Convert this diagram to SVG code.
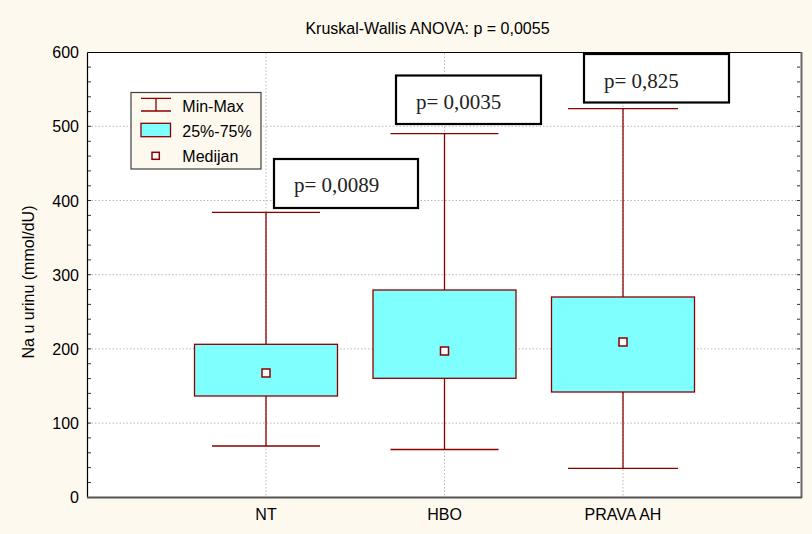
<svg xmlns="http://www.w3.org/2000/svg" width="812" height="534" viewBox="0 0 812 534">
<style>
text{font-family:"Liberation Sans",Arial,sans-serif;fill:#000}
.lbl{font-size:16px}
.tick{font-size:16px;text-anchor:end}
.grid{stroke:#b8b8b8;stroke-width:1;stroke-dasharray:1.5,2;fill:none}
.wh{stroke:#8b0000;stroke-width:1.3;fill:none}
.box{fill:#80ffff;stroke:#8b0000;stroke-width:1.3}
.med{fill:#fff;stroke:#8b0000;stroke-width:1.5}
.pbox{fill:#fff;stroke:#000;stroke-width:2.2}
.ptxt{font-family:"Liberation Serif","Times New Roman",serif;font-size:21px;fill:#222}
.mt{stroke:#333;stroke-width:1}
</style>
<rect x="0" y="0" width="812" height="534" fill="#fef9ee"/>
<g id="plot-area">
<rect x="87.5" y="52.5" width="714" height="445" fill="#fff"/>
</g>
<g id="grid">
<path class="grid" d="M88 126.3H801M88 200.5H801M88 274.7H801M88 348.9H801M88 423.1H801"/>
<path class="grid" d="M266 53V497M444.5 53V497M623 53V497"/>
</g>
<g id="axes">
<path d="M87.5 52.5H801.5" stroke="#000" stroke-width="1.2"/>
<path d="M87.5 52.5V497.5" stroke="#000" stroke-width="1.2"/>
<path d="M801.5 52V498" stroke="#666" stroke-width="2"/>
<path d="M87 497.5H802" stroke="#555" stroke-width="2"/>
<path class="mt" d="M88 67.1h3M88 81.9h3M88 96.8h3M88 111.6h3M88 126.3h3M88 141.3h3M88 156.1h3M88 170.9h3M88 185.8h3M88 200.5h3M88 215.4h3M88 230.2h3M88 245.1h3M88 259.9h3M88 274.7h3M88 289.6h3M88 304.4h3M88 319.2h3M88 334.1h3M88 348.9h3M88 363.7h3M88 378.6h3M88 393.4h3M88 408.3h3M88 423.1h3M88 437.9h3M88 452.8h3M88 467.6h3M88 482.5h3"/>
<path class="mt" d="M800 67.1h-3M800 81.9h-3M800 96.8h-3M800 111.6h-3M800 126.3h-3M800 141.3h-3M800 156.1h-3M800 170.9h-3M800 185.8h-3M800 200.5h-3M800 215.4h-3M800 230.2h-3M800 245.1h-3M800 259.9h-3M800 274.7h-3M800 289.6h-3M800 304.4h-3M800 319.2h-3M800 334.1h-3M800 348.9h-3M800 363.7h-3M800 378.6h-3M800 393.4h-3M800 408.3h-3M800 423.1h-3M800 437.9h-3M800 452.8h-3M800 467.6h-3M800 482.5h-3"/>
<text class="tick" x="79" y="58.3">600</text>
<text class="tick" x="79" y="132.3">500</text>
<text class="tick" x="79" y="206.5">400</text>
<text class="tick" x="79" y="280.7">300</text>
<text class="tick" x="79" y="354.9">200</text>
<text class="tick" x="79" y="429.1">100</text>
<text class="tick" x="79" y="503.3">0</text>
<text class="lbl" x="266" y="520" text-anchor="middle">NT</text>
<text class="lbl" x="444.5" y="520" text-anchor="middle">HBO</text>
<text class="lbl" x="623" y="520" text-anchor="middle">PRAVA AH</text>
<text class="lbl" transform="translate(34 282) rotate(-90)" text-anchor="middle">Na u urinu (mmol/dU)</text>
<text class="lbl" x="427.5" y="34" text-anchor="middle">Kruskal-Wallis ANOVA: p = 0,0055</text>
</g>
<g id="connectors">
<path class="wh" d="M212 212.3H320M266 212.3V344.3M266 396V446H212M266 446H320"/>
<path class="wh" d="M390.5 133.6H498.5M444.5 133.6V290M444.5 378.3V449.5H390.5M444.5 449.5H498.5"/>
<path class="wh" d="M568 108.7H678M623 108.7V297M623 392V468.3H568M623 468.3H678"/>
</g>
<g id="box-nt">
<rect class="box" x="194.5" y="344.3" width="143" height="51.7"/>
<rect class="med" x="262" y="369" width="8" height="8"/>
</g>
<g id="box-hbo">
<rect class="box" x="373" y="290" width="143" height="88.3"/>
<rect class="med" x="440.5" y="347" width="8" height="8"/>
</g>
<g id="box-prava">
<rect class="box" x="551.5" y="297" width="143" height="95"/>
<rect class="med" x="619" y="338" width="8" height="8"/>
</g>
<g id="p-0089">
<rect class="pbox" x="274" y="159" width="144" height="49"/>
<text class="ptxt" x="294" y="192">p= 0,0089</text>
</g>
<g id="p-0035">
<rect class="pbox" x="396" y="75.5" width="145" height="48.5"/>
<text class="ptxt" x="416" y="109">p= 0,0035</text>
</g>
<g id="p-0825">
<rect class="pbox" x="584" y="54" width="145" height="48.5"/>
<text class="ptxt" x="604" y="87.5">p= 0,825</text>
</g>
<g id="legend">
<rect x="131" y="92.5" width="130" height="76.5" fill="#fef9ee" stroke="#404040" stroke-width="1.2"/>
<path class="wh" d="M141 98.3H171M141 111H171M156 98.3V111"/>
<rect class="box" x="141" y="123.3" width="29.5" height="13.4"/>
<rect class="med" x="152" y="152.3" width="7.3" height="7"/>
<text class="lbl" x="182.3" y="112">Min-Max</text>
<text class="lbl" x="182.3" y="137.3">25%-75%</text>
<text class="lbl" x="182.3" y="162">Medijan</text>
</g>
</svg>
